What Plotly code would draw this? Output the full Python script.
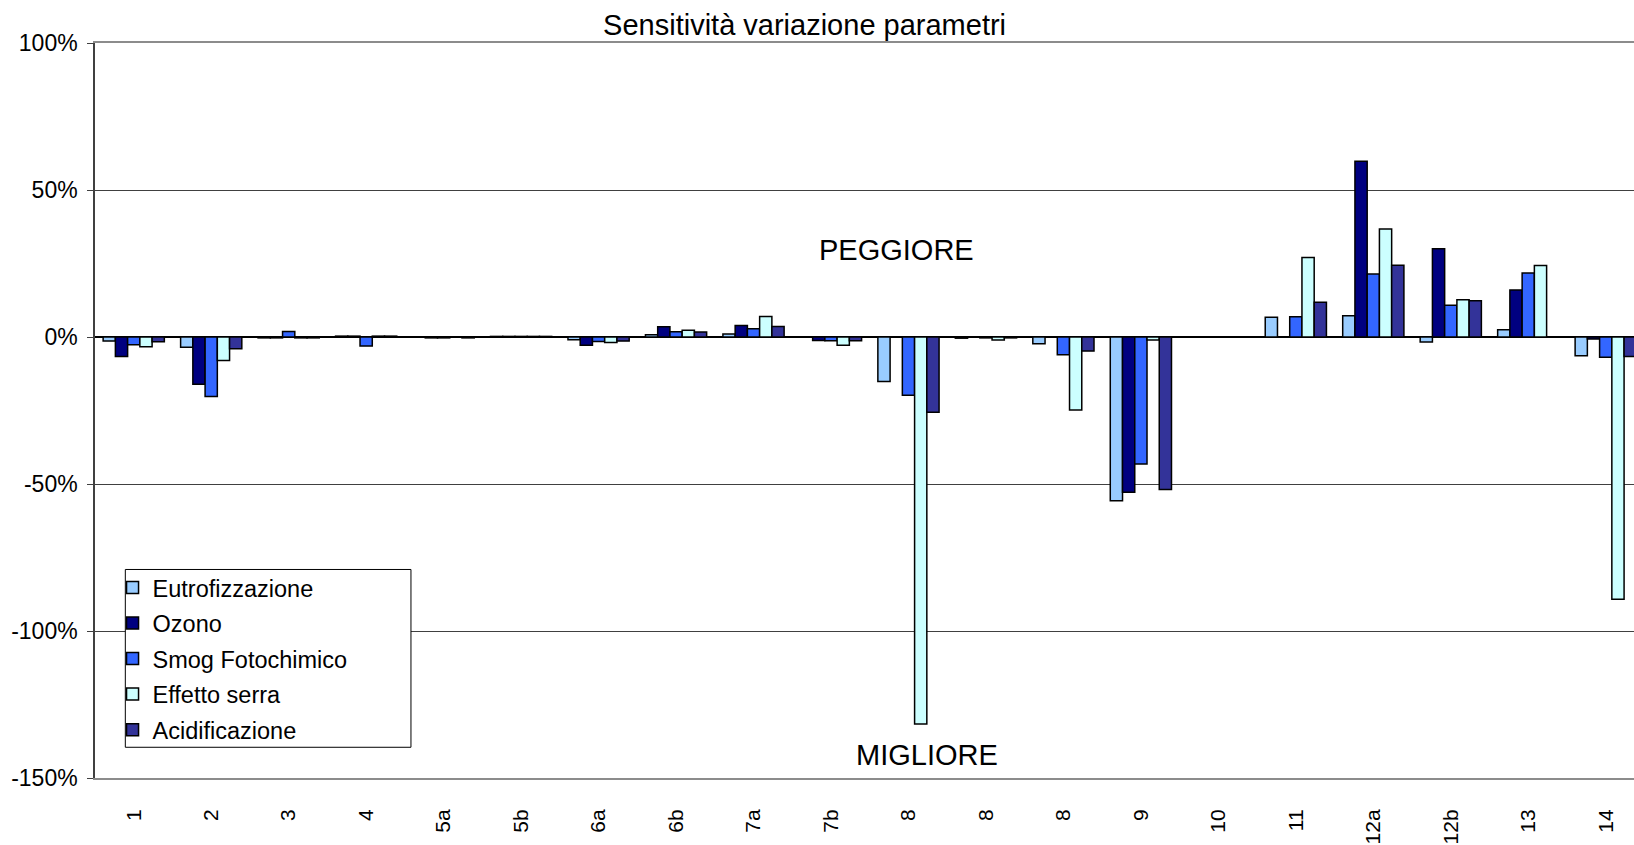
import plotly.graph_objects as go

# categories along the x axis (the "8" repeats, so the axis is numeric with tick text)
LABELS = ["1", "2", "3", "4", "5a", "5b", "6a", "6b", "7a", "7b",
          "8", "8", "8", "9", "10", "11", "12a", "12b", "13", "14"]

# variation in percent
EUTROFIZZAZIONE = [-1.4, -3.5, -0.3, 0.3, 0.0, 0.2, -0.9, 0.8, 1.0, 0.0,
                   -15.1, -0.4, -2.3, -55.7, 0.0, 6.7, 7.2, -1.7, 2.5, -6.4]
OZONO = [-6.6, -16.1, -0.3, 0.3, -0.3, 0.2, -2.8, 3.5, 3.9, -1.2,
         0.0, 0.0, 0.0, -52.8, 0.0, 0.0, 59.8, 30.0, 16.0, -0.7]
SMOG = [-2.6, -20.2, 1.9, -3.1, -0.3, 0.2, -1.5, 1.8, 2.8, -1.3,
        -19.8, -0.3, -6.0, -43.2, 0.0, 6.9, 21.4, 10.8, 21.8, -6.9]
EFFETTO_SERRA = [-3.3, -8.0, -0.3, 0.3, 0.0, 0.2, -1.9, 2.3, 7.0, -2.8,
                 -131.6, -1.0, -24.8, -1.0, 0.0, 27.0, 36.7, 12.7, 24.3, -89.2]
ACIDIFICAZIONE = [-1.6, -4.0, -0.3, 0.3, -0.3, 0.2, -1.4, 1.7, 3.6, -1.3,
                  -25.6, -0.3, -4.8, -51.9, 0.0, 11.8, 24.4, 12.3, 0.0, -6.6]

Y_TICKS = [-150, -100, -50, 0, 50, 100]
Y_TICK_TEXT = ["-150%", "-100%", "-50%", "0%", "50%", "100%"]

SERIES = [
    ("Eutrofizzazione", EUTROFIZZAZIONE, "#99CCFF"),
    ("Ozono", OZONO, "#000080"),
    ("Smog Fotochimico", SMOG, "#3366FF"),
    ("Effetto serra", EFFETTO_SERRA, "#CCFFFF"),
    ("Acidificazione", ACIDIFICAZIONE, "#333399"),
]

FONT = "Arial, 'Liberation Sans', sans-serif"
x = list(range(len(LABELS)))
# the chart runs off the right edge, cutting the last group
x_range = [-0.5, 19.365]

fig = go.Figure()
for name, vals, color in SERIES:
    fig.add_trace(
        go.Bar(
            x=x,
            y=vals,
            name=name,
            legendgroup=name,
            marker=dict(color=color, line=dict(color="black", width=1.5)),
        )
    )

# legend frame (drawn as a shape so it can be wider than the entries)
fig.add_shape(
    type="rect", xref="paper", yref="paper",
    x0=0.0197, x1=0.2053, y0=0.0418, y1=0.2837,
    fillcolor="white", line=dict(color="black", width=1), layer="above",
)

fig.add_annotation(text="PEGGIORE", xref="paper", yref="paper", x=0.5206, y=0.719,
                   xanchor="center", yanchor="middle",
                   showarrow=False, font=dict(size=29, color="black"))
fig.add_annotation(text="MIGLIORE", xref="paper", yref="paper", x=0.5408, y=0.0313,
                   xanchor="center", yanchor="middle",
                   showarrow=False, font=dict(size=29, color="black"))

fig.update_layout(
    template="none",
    width=1634,
    height=845,
    font=dict(family=FONT, color="black"),
    title=dict(text="Sensitività variazione parametri", xref="container", x=0.4924,
               y=1 - 25 / 845, yanchor="middle", xanchor="center", automargin=False,
               font=dict(size=29, color="black")),
    barmode="group",
    bargap=0.21,
    bargroupgap=0,
    plot_bgcolor="white",
    paper_bgcolor="white",
    margin=dict(l=94.5, r=0, t=43, b=67.3, autoexpand=False),
    xaxis=dict(
        range=x_range, tickvals=x, ticktext=LABELS, tickangle=-90,
        showgrid=False, zeroline=False, ticks="", automargin=False,
        showline=True, linecolor="#8c8c8c", linewidth=2, mirror=True,
        tickfont=dict(size=21), ticklabelstandoff=21,
    ),
    # category separators sitting on the 0% line
    xaxis2=dict(
        overlaying="x", anchor="free", position=0.6, range=x_range,
        tickvals=[i - 0.5 for i in range(len(LABELS) + 1)],
        ticks="outside", ticklen=6, tickcolor="#404040", tickwidth=1,
        showticklabels=False, showgrid=False, zeroline=False, showline=False,
        automargin=False,
    ),
    yaxis=dict(
        range=[-150, 100], tickvals=Y_TICKS, ticktext=Y_TICK_TEXT,
        showgrid=True, gridcolor="#404040", gridwidth=1,
        zeroline=True, zerolinecolor="black", zerolinewidth=1.5,
        showline=True, linecolor="#404040", linewidth=1.5,
        ticks="outside", ticklen=6, tickcolor="#404040", automargin=False,
        tickfont=dict(size=23), ticklabelstandoff=5,
    ),
    legend=dict(
        x=0.0114, y=0.2889, xanchor="left", yanchor="top",
        bgcolor="rgba(0,0,0,0)", borderwidth=0,
        font=dict(size=23.5), tracegroupgap=2,
    ),
)

# drop the page's default body margin so the figure sits at the window's corner
fig.write_html(
    "out.html",
    config={"displayModeBar": False},
    post_script="document.body.style.margin = '0px';",
)
